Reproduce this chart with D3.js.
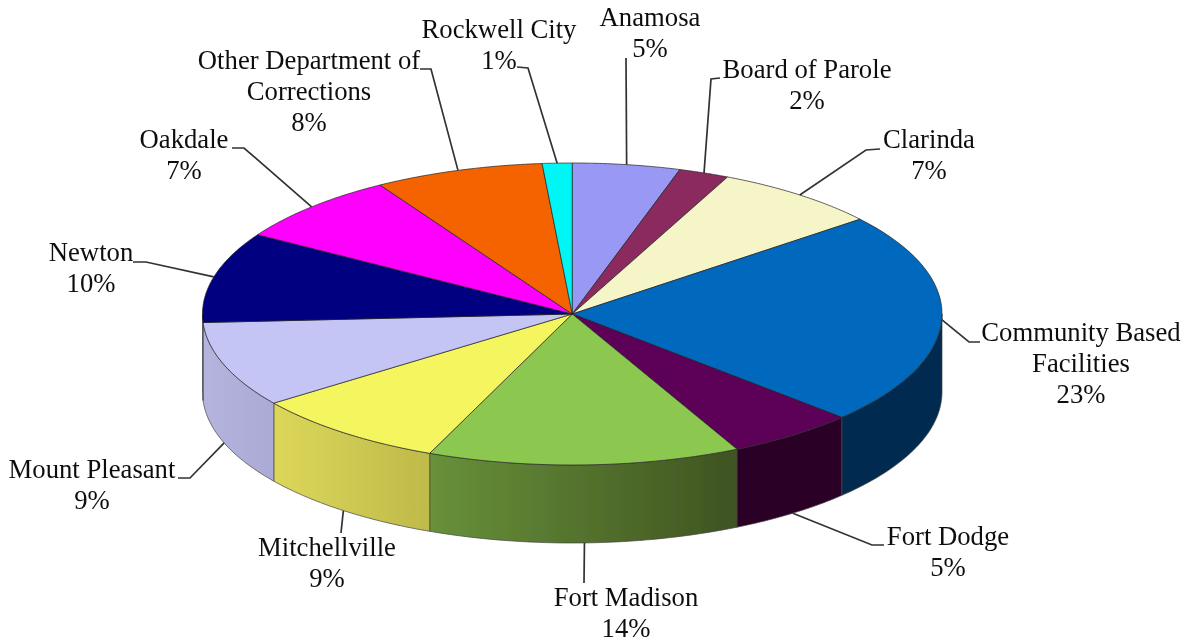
<!DOCTYPE html>
<html><head><meta charset="utf-8">
<script src="https://cdn.jsdelivr.net/npm/d3@7"></script>
<style>html,body{margin:0;padding:0;background:#fff}svg{display:block}</style>
</head><body><div id="c"></div>
<script>
const categories=["Anamosa","Board of Parole","Clarinda","Community Based Facilities","Fort Dodge","Fort Madison","Mitchellville","Mount Pleasant","Newton","Oakdale","Other Department of Corrections","Rockwell City"];
const shares=[4.7,2.2,7.3,22.8,5.65,13.65,8.65,9.15,9.7,7.5,7.4,1.3];
const percentLabels=["5%","2%","7%","23%","5%","14%","9%","9%","10%","7%","8%","1%"];
const labelLines=[["Anamosa"],["Board of Parole"],["Clarinda"],["Community Based","Facilities"],["Fort Dodge"],["Fort Madison"],["Mitchellville"],["Mount Pleasant"],["Newton"],["Oakdale"],["Other Department of","Corrections"],["Rockwell City"]];
const topColors=["#9999f5","#8a2c5e","#f5f5c8","#0069bd","#5c0058","#8cc850","#f5f55f","#c5c5f5","#000080","#ff00ff","#f56400","#00f5f5"];
const sideStart=["#6f6fb0","#60203f","#b0b090","#002c50","#2a0028","#68913a","#dcd75a","#b4b4de","#b0b0dc","#a000a0","#a04000","#00a0a0"];
const sideEnd=["#6f6fb0","#60203f","#b0b090","#002c50","#2a0028","#3f5320","#bfba4a","#aaaad6","#b0b0dc","#a000a0","#a04000","#00a0a0"];

// layout only
const W=1190,H=643,depth=78;
const labelPos=[[650,26],[807,78],[929,148],[1081,341],[948,545],[626,606],[327,556],[92,478],[91,261],[184,148],[309,69],[499,38]];
const leaderElbows=[
 [[626,58]],[[711,79],[720,78]],[[866,150],[880,149]],[[969,342],[980,342]],[[872,545],[884,545]],[[584,583]],
 [[341,533]],[[190,478],[178,478]],[[146,262],[133,262]],[[244,148],[232,148]],[[431,69],[420,69]],[[528,68],[517,67]]];

const sx=d3.scaleLinear().domain([-1,1]).range([202.5,942]);
const sy=d3.scaleLinear().domain([-1,1]).range([163,465]);
const px=a=>sx(Math.sin(a)), py=a=>sy(-Math.cos(a));

const pie=d3.pie().sort(null).startAngle(0).endAngle(2*Math.PI);
const arcs=pie(shares);

const svg=d3.select("#c").append("svg").attr("width",W).attr("height",H).attr("viewBox",[0,0,W,H]);
const defs=svg.append("defs");
defs.append("filter").attr("id","soft").append("feGaussianBlur").attr("stdDeviation",0.45);
const root=svg.append("g").attr("filter","url(#soft)");
const line=d3.line();
const steps=()=>d3.range(0,41).map(i=>i/40);

const sideG=root.append("g");
arcs.forEach((d,i)=>{
  const a0=Math.max(d.startAngle,Math.PI/2), a1=Math.min(d.endAngle,3*Math.PI/2);
  if(a1<=a0) return;
  const it=d3.interpolateNumber(a0,a1);
  const upper=steps().map(t=>{const a=it(t);return [px(a),py(a)]});
  const lower=upper.slice().reverse().map(p=>[p[0],p[1]+depth]);
  const id="g"+i;
  const g=defs.append("linearGradient").attr("id",id).attr("gradientUnits","userSpaceOnUse")
    .attr("x1",Math.min(px(a0),px(a1))).attr("x2",Math.max(px(a0),px(a1))).attr("y1",0).attr("y2",0);
  g.append("stop").attr("offset",0).attr("stop-color",sideStart[i]);
  g.append("stop").attr("offset",1).attr("stop-color",sideEnd[i]);
  sideG.append("path").attr("d",line(upper.concat(lower))+"Z").attr("fill",`url(#${id})`)
    .attr("stroke","#444").attr("stroke-width",0.7);
});

const topG=root.append("g");
const cx=sx(0),cy=sy(0);
arcs.forEach((d,i)=>{
  const it=d3.interpolateNumber(d.startAngle,d.endAngle);
  const rim=steps().map(t=>{const a=it(t);return [px(a),py(a)]});
  topG.append("path").attr("d",line([[cx,cy]].concat(rim))+"Z").attr("fill",topColors[i])
    .attr("stroke","#222").attr("stroke-width",0.7).attr("stroke-linejoin","round");
});

const leaders=root.append("g").attr("fill","none").attr("stroke","#333").attr("stroke-width",1.7);
arcs.forEach((d,i)=>{
  const m=(d.startAngle+d.endAngle)/2;
  const onSide=Math.cos(m)<-0.1;
  const start=[px(m),py(m)+(onSide?depth:0)];
  leaders.append("path").attr("d",line([start].concat(leaderElbows[i])));
});

const textG=root.append("g").attr("font-family","'Liberation Serif','Times New Roman',serif")
  .attr("font-size",26.7).attr("fill","#111").attr("text-anchor","middle");
const lh=31;
categories.forEach((c,i)=>{
  const [x,y]=labelPos[i];
  labelLines[i].forEach((t,k)=>textG.append("text").attr("x",x).attr("y",y+k*lh).text(t));
  textG.append("text").attr("x",x).attr("y",y+labelLines[i].length*lh).text(percentLabels[i]);
});
</script></body></html>
